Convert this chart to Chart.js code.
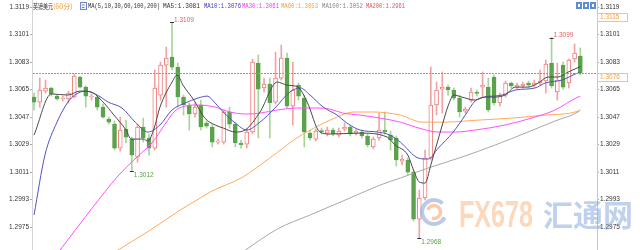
<!DOCTYPE html>
<html><head><meta charset="utf-8">
<script src="https://cdn.jsdelivr.net/npm/chart.js@4/dist/chart.umd.min.js"></script>
<style>html,body{margin:0;padding:0;background:#fff}#wrap{width:640px;height:250px;position:relative}</style>
</head><body><div id="wrap"><canvas id="c" width="640" height="250"></canvas></div>
<script>
// ---- data (60-minute GBP/USD candles) ----
const OPEN = [
1.30601,1.30568,1.30640,1.30660,1.30607,1.30588,1.30588,1.30601,1.30732,1.30666,
1.30601,1.30601,1.30535,1.30457,1.30424,1.30267,1.30391,1.30326,1.30208,1.30405,
1.30333,1.30267,1.30614,1.30810,1.30863,1.30797,1.30601,1.30549,1.30490,1.30549,
1.30431,1.30405,1.30306,1.30306,1.30503,1.30424,1.30300,1.30293,1.30372,1.30823,
1.30660,1.30686,1.30568,1.30725,1.30856,1.30542,1.30679,1.30594,1.30365,1.30326,
1.30382,1.30365,1.30385,1.30352,1.30391,1.30405,1.30365,1.30372,1.30346,1.30274,
1.30333,1.30385,1.30352,1.30333,1.30182,1.30189,1.30110,1.29802,1.29940,1.30202,
1.30549,1.30653,1.30666,1.30647,1.30594,1.30509,1.30581,1.30634,1.30666,1.30666,
1.30732,1.30562,1.30614,1.30693,1.30666,1.30673,1.30693,1.30679,1.30693,1.30706,
1.30823,1.30634,1.30810,1.30693,1.30850,1.30869];
const HIGH = [
1.30627,1.30725,1.30712,1.30666,1.30614,1.30607,1.30640,1.30751,1.30738,1.30673,
1.30621,1.30607,1.30555,1.30470,1.30444,1.30470,1.30450,1.30339,1.30424,1.30463,
1.30359,1.30778,1.30830,1.30928,1.31090,1.30823,1.30614,1.30562,1.30562,1.30581,
1.30444,1.30424,1.30326,1.30516,1.30535,1.30437,1.30319,1.30391,1.30850,1.30876,
1.30725,1.30725,1.30895,1.30941,1.30889,1.30830,1.30693,1.30614,1.30385,1.30391,
1.30398,1.30405,1.30398,1.30398,1.30431,1.30418,1.30391,1.30385,1.30359,1.30339,
1.30496,1.30503,1.30378,1.30346,1.30221,1.30202,1.30123,1.29992,1.30254,1.30797,
1.30699,1.30765,1.30679,1.30660,1.30614,1.30535,1.30660,1.30647,1.30765,1.30725,
1.30745,1.30627,1.30706,1.30699,1.30693,1.30699,1.30706,1.30712,1.30778,1.30843,
1.30990,1.30823,1.30830,1.30850,1.30948,1.30922];
const LOW = [
1.30516,1.30535,1.30627,1.30607,1.30581,1.30575,1.30562,1.30594,1.30660,1.30535,
1.30581,1.30516,1.30463,1.30424,1.30254,1.30247,1.30300,1.30120,1.30175,1.30306,
1.30221,1.30254,1.30581,1.30535,1.30778,1.30535,1.30483,1.30385,1.30470,1.30385,
1.30398,1.30274,1.30293,1.30293,1.30398,1.30274,1.30267,1.30267,1.30359,1.30333,
1.30634,1.30333,1.30555,1.30712,1.30529,1.30418,1.30581,1.30274,1.30319,1.30313,
1.30359,1.30346,1.30346,1.30339,1.30378,1.30346,1.30352,1.30333,1.30274,1.30261,
1.30319,1.30359,1.30254,1.30149,1.30156,1.30090,1.29789,1.29680,1.29927,1.30189,
1.30483,1.30496,1.30614,1.30581,1.30470,1.30496,1.30568,1.30607,1.30601,1.30503,
1.30549,1.30542,1.30601,1.30660,1.30653,1.30660,1.30666,1.30666,1.30679,1.30627,
1.30660,1.30581,1.30653,1.30660,1.30830,1.30745];
const CLOSE = [
1.30568,1.30647,1.30660,1.30621,1.30588,1.30594,1.30627,1.30738,1.30666,1.30607,
1.30607,1.30535,1.30470,1.30437,1.30267,1.30385,1.30339,1.30221,1.30405,1.30333,
1.30267,1.30660,1.30810,1.30856,1.30797,1.30601,1.30549,1.30490,1.30535,1.30405,
1.30411,1.30306,1.30313,1.30503,1.30424,1.30300,1.30290,1.30372,1.30830,1.30653,
1.30686,1.30562,1.30725,1.30856,1.30542,1.30647,1.30607,1.30372,1.30333,1.30378,
1.30375,1.30385,1.30359,1.30378,1.30405,1.30359,1.30378,1.30346,1.30287,1.30326,
1.30385,1.30372,1.30319,1.30189,1.30195,1.30110,1.29802,1.29940,1.30202,1.30549,
1.30647,1.30666,1.30647,1.30594,1.30503,1.30522,1.30634,1.30624,1.30679,1.30516,
1.30562,1.30614,1.30693,1.30673,1.30679,1.30686,1.30679,1.30693,1.30706,1.30817,
1.30673,1.30712,1.30666,1.30843,1.30889,1.30760];

// moving-average lines, read as [candle index, price] points
const MA5 = [[0,1.30352],[3,1.30621],[5.9,1.30614],[8,1.30640],[9.9,1.30634],[12,1.30568],[13.9,1.30483],[16,1.30385],[16.9,1.30326],[19,1.30326],[19.8,1.30313],[20.9,1.30398],[21.9,1.30535],[24,1.30699],[24.9,1.30745],[25.9,1.30679],[27.8,1.30581],[29.7,1.30463],[31.5,1.30418],[32.9,1.30398],[35,1.30372],[36.7,1.30385],[39.3,1.30503],[42.3,1.30699],[44,1.30679],[45.9,1.30666],[47.5,1.30568],[49.7,1.30372],[51.5,1.30359],[56.7,1.30365],[61.4,1.30339],[62.8,1.30287],[65,1.30221],[66,1.30123],[67,1.30045],[68,1.30038],[69,1.30156],[70,1.30287],[71,1.30418],[72,1.30542],[73,1.30614],[74.4,1.30601],[76.7,1.30581],[78.4,1.30601],[80.2,1.30601],[81.9,1.30614],[83.7,1.30666],[85.9,1.30666],[87.7,1.30693],[89.4,1.30732],[91.1,1.30732],[92.9,1.30765],[95,1.30800]];
const MA10 = [[0,1.29829],[1.9,1.30221],[4,1.30437],[5.9,1.30568],[7.1,1.30614],[9,1.30640],[11,1.30614],[12.9,1.30568],[15.3,1.30529],[17.6,1.30437],[19.8,1.30372],[21.9,1.30418],[24,1.30516],[26.3,1.30562],[28.5,1.30594],[30.1,1.30607],[31.5,1.30562],[32.9,1.30503],[35,1.30431],[37,1.30385],[39.3,1.30437],[41.9,1.30529],[44.5,1.30634],[46.3,1.30660],[48,1.30614],[50.3,1.30535],[52.7,1.30483],[54.4,1.30431],[56.7,1.30385],[59.7,1.30372],[61.9,1.30352],[63.7,1.30306],[66.8,1.30202],[68.5,1.30195],[70.3,1.30267],[72.9,1.30372],[75,1.30483],[76.7,1.30575],[78.4,1.30601],[81.4,1.30614],[83.7,1.30647],[87.1,1.30660],[88.9,1.30693],[91.8,1.30712],[94.6,1.30758],[95,1.30760]];
const MA30 = [[4,1.29573],[10.1,1.29874],[14.6,1.30084],[18.1,1.30215],[20.5,1.30300],[22.8,1.30424],[24.5,1.30509],[26.3,1.30542],[28.5,1.30549],[31.5,1.30535],[34.1,1.30503],[37,1.30490],[39.3,1.30496],[42.3,1.30516],[45.7,1.30529],[49.2,1.30529],[51.5,1.30522],[53.7,1.30496],[56.7,1.30483],[60.2,1.30463],[63.7,1.30437],[66.3,1.30405],[70.3,1.30372],[73.2,1.30372],[76.7,1.30385],[81.9,1.30418],[87.1,1.30470],[90.6,1.30516],[94.6,1.30601],[95,1.30605]];
const MA60 = [[14,1.29586],[20.2,1.29730],[25.4,1.29861],[28.9,1.29940],[30.6,1.29979],[36.3,1.30077],[41,1.30202],[45.7,1.30333],[49.7,1.30418],[52.7,1.30470],[55.5,1.30503],[59,1.30503],[63.7,1.30483],[67.5,1.30437],[71.5,1.30437],[77.2,1.30450],[83.1,1.30463],[88.9,1.30483],[94.6,1.30509],[95,1.30520]];
const MA100 = [[36.5,1.29593],[42.3,1.29737],[48,1.29829],[53.7,1.29920],[60.2,1.30025],[63.7,1.30071],[68.5,1.30136],[74.4,1.30208],[80.2,1.30287],[85.9,1.30372],[90.6,1.30444],[94.6,1.30503],[95,1.30515]];

const Y_TICKS = [1.3119, 1.3101, 1.3083, 1.3065, 1.3047, 1.3029, 1.3011, 1.2993, 1.2975];
const TITLE_NAME = '英镑美元';
const TITLE_PERIOD = '(60分)';
const MA_PARAMS = 'MA(5,10,30,60,100,200)';
const MA_LEGEND = ['MA5:1.3081', 'MA10:1.3076', 'MA30:1.3061', 'MA60:1.3053', 'MA100:1.3052', 'MA200:1.2961'];
const MARK_INDEX = [24, 17, 67, 90];
const MARK_KIND = ['high', 'low', 'low', 'high'];
const MARK_TEXT = ['1.3109', '1.3012', '1.2968', '1.3099'];
const TAG_VALUE = [1.3115, 1.3076];
const TAG_TEXT = ['1.3115', '1.3076'];
const LAST_PRICE = 1.3076;

// ---- styles ----
const UP_LINE = '#ef7f7f', UP_WICK = '#f3a2a2', DN_BODY = '#5aa24b', DN_WICK = '#a6d49b';
const FONT = "'Liberation Sans', Arial, sans-serif";
const idx = CLOSE.map((_, i) => i);
const isUp = i => CLOSE[i] >= OPEN[i];

function maSet(label, pts, color) {
  return { type: 'line', label, data: pts.map(p => ({ x: p[0], y: p[1] })), borderColor: color,
    borderWidth: 1, pointRadius: 0, cubicInterpolationMode: 'monotone', order: 1 };
}

function yAxis(pos, w) {
  return {
    position: pos, min: 1.2960, max: 1.31236,
    afterBuildTicks: s => { s.ticks = Y_TICKS.map(v => ({ value: v })); },
    afterFit: s => { s.width = w; s.paddingTop = 0; s.paddingBottom = 0; },
    ticks: { font: { size: 6.5, family: FONT }, color: '#333', padding: 1, autoSkip: false,
      callback: v => Number(v).toFixed(4) },
    grid: { drawOnChartArea: false, tickLength: 2, color: '#aaa' },
    border: pos === 'left' ? { color: '#d4d4d4' } : { color: '#c8c8c8', dash: [1, 2] }
  };
}

const overlay = {
  id: 'overlay',
  afterDatasetsDraw(chart) {
    const { ctx, chartArea: a, scales: { x, y } } = chart;
    ctx.save();
    // dotted last-price line
    const py = Math.round(y.getPixelForValue(LAST_PRICE));
    ctx.fillStyle = '#59a8f7';
    for (let xx = a.left + 1; xx < a.right; xx += 3) ctx.fillRect(xx, py, 2, 1);
    ctx.font = '6.5px ' + FONT; ctx.textBaseline = 'middle'; ctx.textAlign = 'left';
    ctx.lineWidth = 1;
    MARK_INDEX.forEach((i, k) => {
      const hi = MARK_KIND[k] === 'high';
      const px = x.getPixelForValue(i);
      const vy = y.getPixelForValue(hi ? HIGH[i] : LOW[i]);
      ctx.strokeStyle = '#333';
      ctx.beginPath(); ctx.moveTo(px - 2, Math.round(vy) + 0.5); ctx.lineTo(px + 2, Math.round(vy) + 0.5); ctx.stroke();
      ctx.fillStyle = hi ? '#e25c5c' : '#5aa24b';
      ctx.fillText(MARK_TEXT[k], px + 2, hi ? vy - 2.5 : vy + 4.5);
    });
    ctx.restore();
  },
  afterDraw(chart) {
    const { ctx, scales: { y, y2 } } = chart;
    ctx.save();
    // header
    ctx.textBaseline = 'middle'; ctx.textAlign = 'left';
    ctx.font = "7px 'Noto Sans CJK SC', sans-serif";
    ctx.fillStyle = '#333'; ctx.fillText(TITLE_NAME, 33, 6, 20);
    ctx.fillStyle = '#f39c32'; ctx.fillText(TITLE_PERIOD, 53, 6, 25);
    ctx.strokeStyle = '#6a8ccc'; ctx.fillStyle = '#eef3fb';
    ctx.fillRect(80, 2.5, 6, 7); ctx.strokeRect(80.5, 2.5, 6, 7);
    ctx.fillStyle = '#e06060'; ctx.fillRect(82, 4.5, 2.5, 1); ctx.fillRect(82, 7, 2.5, 1);
    ctx.font = "7px 'Liberation Mono', monospace";
    ctx.fillStyle = '#333'; ctx.fillText(MA_PARAMS, 88, 6, 72);
    const lx = [163, 204, 242, 281, 322, 366], lw = [37, 37, 37, 37, 41, 39];
    const lc = ['#333', '#3c3cc8', '#f040f0', '#ff9a3c', '#888', '#e85050'];
    MA_LEGEND.forEach((t, k) => { ctx.fillStyle = lc[k]; ctx.fillText(t, lx[k], 6, lw[k]); });
    // toolbar icons
    [576, 583, 590].forEach(ix => {
      ctx.fillStyle = '#5b8ed6'; ctx.fillRect(ix, 2, 6, 7);
      ctx.fillStyle = '#fff'; ctx.fillRect(ix + 2, 4, 2, 3);
    });
    // right-side price tags
    ctx.font = '6.5px ' + FONT;
    TAG_VALUE.forEach((v, k) => {
      const ty = Math.round(y2.getPixelForValue(v));
      ctx.fillStyle = '#fff'; ctx.fillRect(y2.left, ty, 30, 8);
      ctx.strokeStyle = '#f5c28e'; ctx.strokeRect(y2.left + 0.5, ty + 0.5, 30, 8);
      ctx.fillStyle = '#f2a04a'; ctx.fillText(TAG_TEXT[k], y2.left + 3, ty + 4.5);
    });
    // watermark
    ctx.globalAlpha = 0.6;
    ctx.lineWidth = 4; ctx.strokeStyle = '#8ea9d4';
    ctx.beginPath(); ctx.arc(434, 212, 12, 0.15 * Math.PI, 1.75 * Math.PI); ctx.stroke();
    ctx.lineWidth = 3.5; ctx.strokeStyle = '#f6a56c';
    ctx.beginPath(); ctx.arc(434, 212, 6.5, 1.1 * Math.PI, 2.6 * Math.PI); ctx.stroke();
    ctx.globalAlpha = 0.5;
    ctx.fillStyle = '#f9b27a'; ctx.font = "bold 36px 'Liberation Sans', Arial, sans-serif";
    ctx.textBaseline = 'alphabetic';
    ctx.fillText('FX678', 459, 227, 74);
    ctx.fillStyle = '#7fa3d9'; ctx.font = "bold 30px 'Noto Sans CJK SC', sans-serif";
    ctx.fillText('汇通网', 543, 226);
    ctx.restore();
  }
};

new Chart(document.getElementById('c'), {
  type: 'bar',
  data: {
    datasets: [
      maSet('MA5', MA5, '#4a4a4a'),
      maSet('MA10', MA10, '#5252c0'),
      maSet('MA30', MA30, '#ff50ff'),
      maSet('MA60', MA60, '#ffaa58'),
      maSet('MA100', MA100, '#a8a8a8'),
      { label: 'body', data: idx.map(i => ({ x: i, y: [OPEN[i], CLOSE[i]] })),
        backgroundColor: c => isUp(c.dataIndex) ? '#ffffff' : DN_BODY,
        borderColor: c => isUp(c.dataIndex) ? UP_LINE : DN_BODY,
        borderWidth: 1, borderSkipped: false, barThickness: 4, minBarLength: 1, grouped: false, order: 5 },
      { label: 'wick', data: idx.map(i => ({ x: i, y: [LOW[i], HIGH[i]] })),
        backgroundColor: c => isUp(c.dataIndex) ? UP_WICK : DN_WICK,
        borderWidth: 0, barThickness: 1, grouped: false, order: 6 }
    ]
  },
  options: {
    responsive: false, animation: false,
    layout: { padding: 0 },
    plugins: { legend: { display: false }, tooltip: { enabled: false } },
    scales: {
      x: { type: 'linear', min: -0.35, max: 97.9, display: false, offset: false, grid: { offset: false } },
      y: yAxis('left', 32),
      y2: yAxis('right', 43)
    }
  },
  plugins: [overlay]
});
</script></body></html>
